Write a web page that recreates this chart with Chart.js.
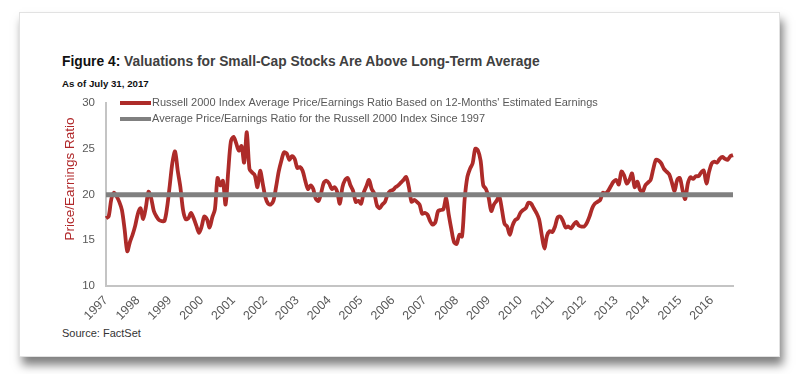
<!DOCTYPE html>
<html>
<head>
<meta charset="utf-8">
<script src="https://cdn.jsdelivr.net/npm/chart.js@4"></script>
<style>
  html, body { margin: 0; padding: 0; background: #fff; }
  body { width: 800px; height: 374px; position: relative; overflow: hidden; font-family: "Liberation Sans", Arial, sans-serif; }
  .card { position: absolute; left: 19px; top: 12px; width: 759px; height: 343px; background: #fff; border: 1px solid #e2e2e2; box-shadow: 3px 8px 9px rgba(0,0,0,0.5); }
  .title { position: absolute; left: 62px; top: 54px; font-size: 13.8px; font-weight: bold; color: #404040; white-space: nowrap; }
  .title b { color: #111; }
  .sub { position: absolute; left: 62px; top: 78px; font-size: 9.7px; font-weight: bold; color: #111; }
  .src { position: absolute; left: 62px; top: 327px; font-size: 11px; color: #333; }
  canvas { position: absolute; left: 0; top: 0; }
</style>
</head>
<body>
<div class="card"></div>
<div class="title"><b>Figure 4:</b> Valuations for Small-Cap Stocks Are Above Long-Term Average</div>
<div class="sub">As of July 31, 2017</div>
<div class="src">Source: FactSet</div>
<canvas id="chart" width="800" height="374"></canvas>
<script>
// tick labels (one per January)
const years = ['1997','1998','1999','2000','2001','2002','2003','2004','2005','2006',
               '2007','2008','2009','2010','2011','2012','2013','2014','2015','2016'];

// monthly P/E from Jan 1997
const peRatio = [
  17.4, 17.6, 19.5, 20.2, 19.8, 19.2, 18.3, 16.2, 13.8, 14.8, 15.6, 16.6,
  17.9, 18.5, 17.3, 18.6, 20.3, 19.6, 18.2, 17.6, 17.2, 17.1, 17.1, 18.6,
  21.0, 23.5, 24.7, 22.6, 20.8, 18.3, 17.3, 17.4, 18.0, 17.4, 16.6, 15.8,
  16.5, 17.6, 17.3, 16.4, 17.5, 18.4, 21.8, 21.0, 21.5, 18.9, 22.5, 25.8,
  26.3, 25.6, 24.8, 25.3, 23.5, 26.8, 22.8, 22.4, 22.1, 20.8, 22.6, 21.2,
  19.7, 19.0, 18.9, 19.3, 20.8, 22.5, 23.7, 24.6, 24.5, 23.8, 24.2, 23.9,
  22.9, 23.0, 22.6, 21.5, 20.6, 21.0, 20.6, 19.5, 19.3, 20.2, 21.3, 21.5,
  21.2, 20.6, 20.8, 20.3, 19.0, 20.8, 21.6, 21.8, 21.0, 20.4, 19.2, 19.3,
  19.0, 20.2, 20.9, 21.6, 20.6, 20.1, 18.8, 18.5, 18.9, 19.2, 20.0, 20.4,
  20.5, 20.8, 21.0, 21.3, 21.6, 21.9, 20.8, 19.2, 19.4, 19.2, 18.9, 17.9,
  18.0, 17.8, 17.1, 16.7, 17.0, 18.2, 18.3, 18.4, 19.6, 17.8, 16.2, 14.8,
  14.6, 15.6, 15.4, 19.5, 21.9, 22.8, 23.4, 25.0, 24.8, 23.7, 21.0, 20.6,
  19.7, 18.2, 18.9, 19.3, 19.8, 18.4, 16.8, 16.5, 15.6, 16.6, 17.2, 17.4,
  18.0, 18.3, 18.5, 19.1, 19.0, 18.5, 18.0, 17.3, 15.6, 14.1, 15.5, 16.0,
  15.9, 16.5, 17.5, 17.6, 17.1, 16.4, 16.5, 16.3, 16.7, 17.0, 16.6, 16.5,
  16.5, 16.9, 17.6, 18.5, 19.0, 19.2, 19.4, 20.2, 20.1, 20.4, 20.9, 21.4,
  21.6, 21.1, 22.5, 22.1, 21.2, 21.6, 22.3, 20.8, 21.4, 20.5, 20.3, 21.0,
  21.3, 21.6, 22.8, 23.8, 23.7, 23.4, 22.8, 22.5, 22.2, 21.3, 20.4, 21.6,
  21.8, 20.5, 19.5, 21.2, 21.9, 21.7, 22.0, 22.0, 22.4, 22.6, 21.2, 22.5,
  23.4, 23.6, 23.5, 23.9, 24.1, 23.9, 23.8, 24.2, 24.3
];

// long-term average since 1997
const avgPE = 19.97;

const months = years.flatMap(y => ['01','02','03','04','05','06','07','08','09','10','11','12'].map(m => y + '-' + m))
                    .slice(0, peRatio.length);

const FONT = '"Liberation Sans", Arial, sans-serif';

// legend sits inside the plot, plus the y title placed a bit above centre
const decorations = {
    id: 'decorations',
    afterDatasetsDraw(chart) {
        const ctx = chart.ctx;
        ctx.save();
        ctx.font = '11px ' + FONT;
        ctx.textBaseline = 'middle';
        chart.data.datasets.forEach((ds, i) => {
            const y = 103 + i * 16;
            ctx.strokeStyle = ds.borderColor;
            ctx.lineWidth = 4;
            ctx.beginPath();
            ctx.moveTo(120, y);
            ctx.lineTo(151, y);
            ctx.stroke();
            ctx.fillStyle = '#595959';
            ctx.fillText(ds.label, 152, y);
        });

        ctx.translate(70, 179);
        ctx.rotate(-Math.PI / 2);
        ctx.font = '13.5px ' + FONT;
        ctx.textAlign = 'center';
        ctx.fillStyle = '#b0282a';
        ctx.fillText('Price/Earnings Ratio', 0, 0);
        ctx.restore();
    }
};

new Chart(document.getElementById('chart'), {
    type: 'line',
    data: {
        labels: months,
        datasets: [
            {
                label: "Russell 2000 Index Average Price/Earnings Ratio Based on 12-Months' Estimated Earnings",
                data: peRatio,
                borderColor: '#ad2b29',
                borderWidth: 3.8,
                pointRadius: 0,
                tension: 0.3,
                order: 1
            },
            {
                label: 'Average Price/Earnings Ratio for the Russell 2000 Index Since 1997',
                data: months.map(() => avgPE),
                borderColor: '#808080',
                borderWidth: 5,
                pointRadius: 0,
                order: 0
            }
        ]
    },
    options: {
        responsive: false,
        animation: false,
        layout: { padding: { left: 58, top: 103, right: 67, bottom: 0 } },
        plugins: { legend: { display: false }, tooltip: { enabled: false } },
        scales: {
            x: {
                afterFit: s => { s.height = 88; },
                grid: { display: false, drawTicks: false },
                border: { display: true, color: '#c4c4c4', width: 2 },
                ticks: {
                    autoSkip: false,
                    minRotation: 45,
                    maxRotation: 45,
                    padding: 7,
                    color: '#595959',
                    font: { size: 12.5, family: FONT },
                    callback: (v, i) => i % 12 === 0 ? years[i / 12] : null
                }
            },
            y: {
                min: 10,
                max: 30,
                afterFit: s => { s.width = 48; },
                grid: { display: false, drawTicks: false },
                border: { display: true, color: '#c4c4c4', width: 2 },
                ticks: {
                    stepSize: 5,
                    padding: 11,
                    color: '#595959',
                    font: { size: 11.5, family: FONT }
                }
            }
        }
    },
    plugins: [decorations]
});
</script>
</body>
</html>
